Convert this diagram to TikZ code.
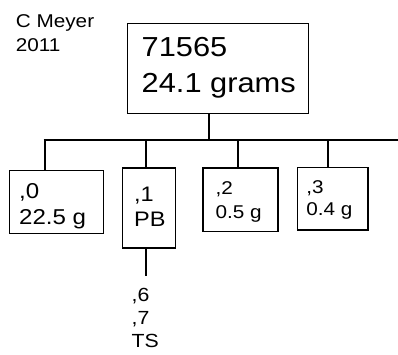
\documentclass[tikz,border=0pt]{standalone}
\usepackage{fontspec}
\setmainfont[FakeStretch=1.12]{Liberation Sans}
\begin{document}
\begin{tikzpicture}[x=1pt,y=-1pt,
  box/.style={draw, line width=1.3pt, anchor=north west, inner sep=0pt},
  wire/.style={line width=1.3pt},
  txt/.style={anchor=north west, align=left, inner sep=0pt}]
\useasboundingbox (0,0) rectangle (398,354);
% author
\node[txt, font=\fontsize{18.5}{24}\selectfont] (author) at (15.7,14.2) {C Meyer\\2011};
% boxes
\node[box, minimum width=181pt, minimum height=90pt] (top) at (126.7,23) {};
\node[box, minimum width=94.4pt, minimum height=63.3pt] (b0) at (8.5,169.6) {};
\node[box, minimum width=53.3pt, minimum height=80pt] (b1) at (121.7,167.4) {};
\node[box, minimum width=75pt, minimum height=63.7pt] (b2) at (202.3,167.3) {};
\node[box, minimum width=70.6pt, minimum height=62.6pt] (b3) at (296.7,166.7) {};
% box texts
\node[txt, font=\fontsize{27.5}{35.4}\selectfont] (ttop) at (141.5,37.3) {71565\\24.1 grams};
\node[txt, font=\fontsize{21.5}{25.7}\selectfont] (t0) at (19,183.7) {,0\\22.5 g};
\node[txt, font=\fontsize{21}{25}\selectfont] (tb1) at (134,186.7) {,1\\PB};
\node[txt, font=\fontsize{18.5}{23.3}\selectfont] (t2) at (215.5,181.6) {,2\\0.5 g};
\node[txt, font=\fontsize{18.5}{22.7}\selectfont] (t3) at (306.2,179.9) {,3\\0.4 g};
\node[txt, font=\fontsize{19}{23.3}\selectfont] (sub) at (131.5,287.9) {,6\\,7\\TS};
% connectors
\coordinate (j) at (209,140);
\coordinate (busL) at (43.5,140);
\coordinate (busR) at (398,140);
\coordinate (s0) at (45,140);
\coordinate (s1) at (146,140);
\coordinate (s2) at (238,140);
\coordinate (s3) at (328,140);
\coordinate (t1) at (146,276);
\draw[wire] (top.south -| j) -- (j);
\draw[wire] (busL) -- (busR);
\draw[wire] (s0) -- (s0 |- b0.north);
\draw[wire] (s1) -- (s1 |- b1.north);
\draw[wire] (s2) -- (s2 |- b2.north);
\draw[wire] (s3) -- (s3 |- b3.north);
\draw[wire] (t1 |- b1.south) -- (t1);
\end{tikzpicture}
\end{document}
